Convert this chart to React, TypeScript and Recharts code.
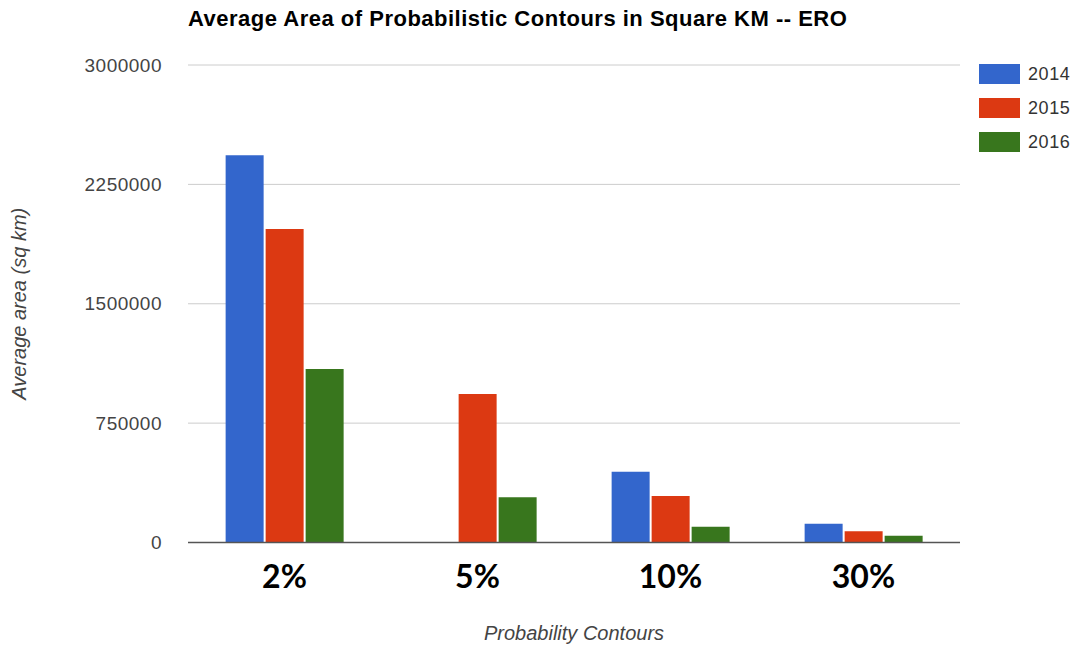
import React from 'react'
import { Bar, BarChart, CartesianGrid, XAxis, YAxis } from 'recharts'

const categories = ['2%', '5%', '10%', '30%']
const y2014 = [2433000, 0, 445000, 118000]
const y2015 = [1969000, 933000, 292000, 70000]
const y2016 = [1090000, 284000, 99000, 43000]
const yTicks = [0, 750000, 1500000, 2250000, 3000000]

const series = [
  { key: 'y2014', name: '2014', color: '#3366cc' },
  { key: 'y2015', name: '2015', color: '#dc3912' },
  { key: 'y2016', name: '2016', color: '#38761d' },
]

const data = categories.map((c, i) => ({ cat: c, y2014: y2014[i], y2015: y2015[i], y2016: y2016[i] }))

const font = '"Liberation Sans", Arial, sans-serif'

function CatTick({ x, y, payload }: any) {
  return (
    <text x={x} y={y + 37} textAnchor="middle" fontFamily='Lato, "Open Sans", sans-serif' fontWeight={700} fontSize={32} fill="#000">
      {payload.value}
    </text>
  )
}

export default function App() {
  return (
    <div style={{ position: 'absolute', left: 0, top: 0, width: 1079, height: 645, background: '#fff' }}>
      <div style={{ position: 'absolute', left: 188, top: 6, fontFamily: font, fontWeight: 700, fontSize: 22, letterSpacing: 0.5, color: '#000', whiteSpace: 'nowrap' }}>
        Average Area of Probabilistic Contours in Square KM -- ERO
      </div>
      <div style={{ position: 'absolute', left: 979, top: 57, fontFamily: font }}>
        {series.map((s) => (
          <div key={s.key} style={{ display: 'flex', alignItems: 'center', height: 34 }}>
            <div style={{ width: 41, height: 20, background: s.color, marginRight: 8 }} />
            <span style={{ fontSize: 18, letterSpacing: 0.6, color: '#333' }}>{s.name}</span>
          </div>
        ))}
      </div>
      <BarChart
        width={1079}
        height={645}
        data={data}
        margin={{ top: 65, right: 119, left: 0, bottom: 0 }}
        barCategoryGap="19.5%"
        barGap={2}
      >
        <CartesianGrid horizontal vertical={false} stroke="#cccccc" />
        <XAxis
          dataKey="cat"
          height={102.5}
          tick={<CatTick />}
          tickLine={false}
          axisLine={{ stroke: '#555', strokeWidth: 1.5 }}
          label={{ value: 'Probability Contours', position: 'insideBottom', offset: 5, fontFamily: font, fontStyle: 'italic', fontSize: 20, fill: '#444' }}
        />
        <YAxis
          width={188}
          domain={[0, 3000000]}
          ticks={yTicks}
          interval={0}
          tickLine={false}
          axisLine={false}
          tickMargin={20}
          tick={{ fontFamily: font, fontSize: 19, letterSpacing: 0.5, fill: '#444' }}
          label={{ value: 'Average area (sq km)', angle: -90, position: 'insideLeft', offset: 19, fontFamily: font, fontStyle: 'italic', fontSize: 20, fill: '#444', style: { textAnchor: 'middle' } }}
        />
        {series.map((s) => (
          <Bar key={s.key} dataKey={s.key} name={s.name} fill={s.color} isAnimationActive={false} />
        ))}
      </BarChart>
    </div>
  )
}
